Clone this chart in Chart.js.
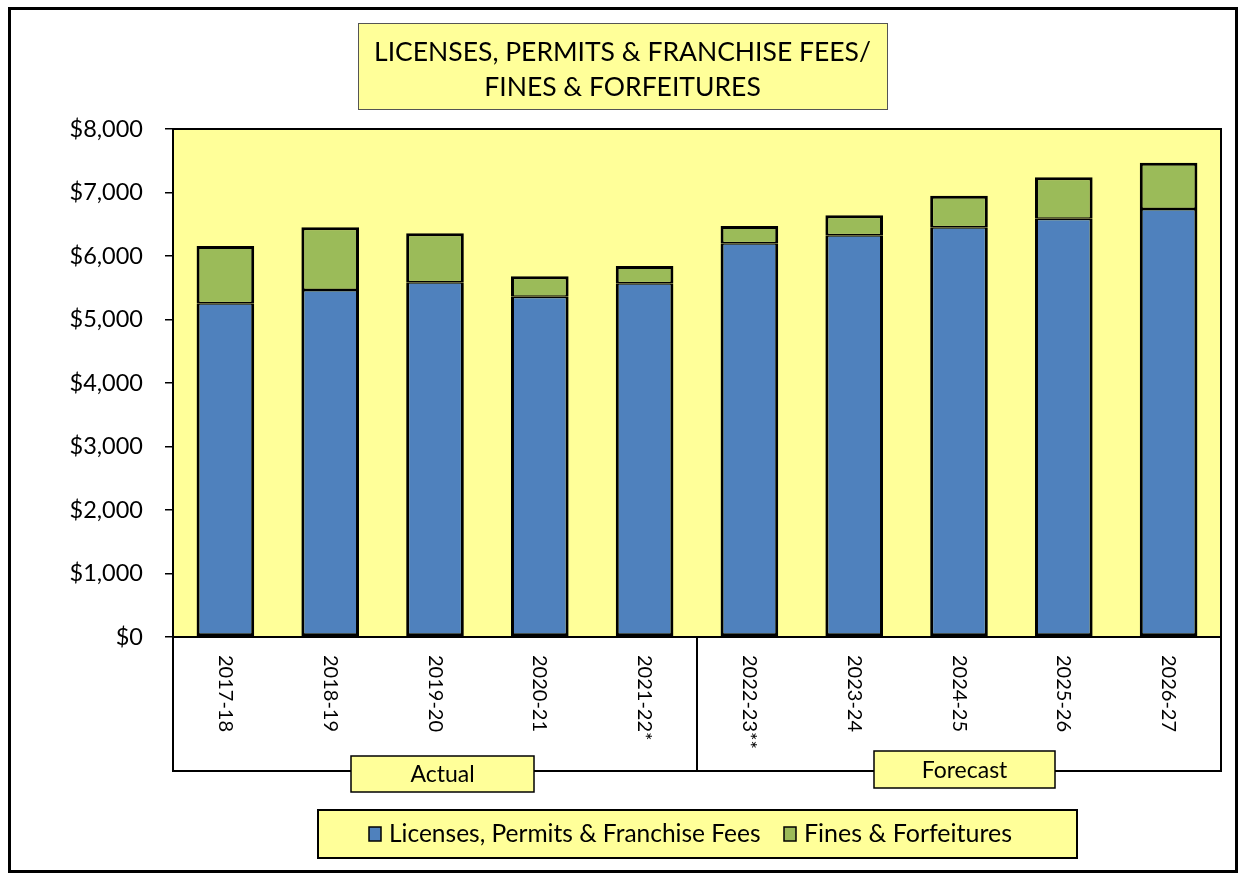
<!DOCTYPE html>
<html>
<head>
<meta charset="utf-8">
<title>Licenses, Permits & Franchise Fees / Fines & Forfeitures</title>
<script src="https://cdn.jsdelivr.net/npm/chart.js@4.4.1/dist/chart.umd.min.js"></script>
<style>
  html, body { margin: 0; padding: 0; background: #fff; }
  canvas { display: block; }
</style>
</head>
<body>
<canvas id="revChart" width="1243" height="873"></canvas>
<script>
// Chart data (in thousands of dollars)
const years = ['2017-18', '2018-19', '2019-20', '2020-21', '2021-22*',
               '2022-23**', '2023-24', '2024-25', '2025-26', '2026-27'];
const licensesFees = [5255, 5465, 5585, 5360, 5570, 6200, 6326, 6452, 6588, 6740];
const finesForfeitures = [902, 987, 772, 320, 273, 272, 315, 498, 651, 730];
const yTicks = [0, 1000, 2000, 3000, 4000, 5000, 6000, 7000, 8000];
const titleLines = ['LICENSES, PERMITS & FRANCHISE FEES/', 'FINES & FORFEITURES'];
const groupLabels = ['Actual', 'Forecast'];

const FONT = 'Lato, "Open Sans", sans-serif';
const YELLOW = '#FFFF99';

// shrink text so it fits a target width
function fitFont(ctx, text, size, maxWidth) {
    let s = size;
    ctx.font = s + 'px ' + FONT;
    while (ctx.measureText(text).width > maxWidth && s > 8) {
        s -= 0.5;
        ctx.font = s + 'px ' + FONT;
    }
    return s;
}

function boxText(ctx, x, y, w, h, lw, stroke) {
    ctx.fillStyle = YELLOW;
    ctx.fillRect(x, y, w, h);
    ctx.lineWidth = lw;
    ctx.strokeStyle = stroke;
    ctx.strokeRect(x, y, w, h);
}

// paints the frame, plot background, title, category box and legend
const decorPlugin = {
    id: 'decor',
    beforeDraw(chart) {
        const ctx = chart.ctx;
        const a = chart.chartArea;
        ctx.save();
        ctx.fillStyle = '#fff';
        ctx.fillRect(0, 0, chart.width, chart.height);
        ctx.fillStyle = YELLOW;
        ctx.fillRect(a.left, a.top, a.right - a.left, a.bottom - a.top);
        ctx.restore();
    },
    afterDraw(chart) {
        const ctx = chart.ctx;
        const a = chart.chartArea;
        const xs = chart.scales.x;
        ctx.save();

        // outer frame
        ctx.lineWidth = 3;
        ctx.strokeStyle = '#000';
        ctx.strokeRect(9.5, 8.5, 1227, 863);

        // plot border
        ctx.lineWidth = 2;
        ctx.strokeRect(a.left, a.top, a.right - a.left, a.bottom - a.top);

        // category box below the plot
        const boxBottom = 771;
        const split = (xs.getPixelForValue(4) + xs.getPixelForValue(5)) / 2;
        ctx.beginPath();
        ctx.moveTo(a.left, a.bottom);
        ctx.lineTo(a.left, boxBottom);
        ctx.lineTo(a.right, boxBottom);
        ctx.lineTo(a.right, a.bottom);
        ctx.moveTo(split, a.bottom);
        ctx.lineTo(split, boxBottom);
        ctx.stroke();

        // rotated year labels
        ctx.fillStyle = '#000';
        ctx.font = '20px ' + FONT;
        ctx.textAlign = 'left';
        ctx.textBaseline = 'middle';
        chart.data.labels.forEach((lbl, i) => {
            const x = xs.getPixelForValue(i);
            ctx.save();
            ctx.translate(x, 655);
            ctx.rotate(Math.PI / 2);
            ctx.fillText(lbl, 0, 0);
            ctx.restore();
        });

        // Actual / Forecast tags
        const tags = [
            { x: 351, y: 756, w: 183, h: 36 },
            { x: 874, y: 751, w: 181, h: 37 }
        ];
        tags.forEach((t, i) => {
            boxText(ctx, t.x, t.y, t.w, t.h, 1.5, '#000');
            ctx.fillStyle = '#000';
            ctx.font = '23px ' + FONT;
            ctx.textAlign = 'center';
            ctx.textBaseline = 'middle';
            ctx.fillText(groupLabels[i], t.x + t.w / 2, t.y + t.h / 2 + 1);
        });

        // title box
        boxText(ctx, 358.5, 23.5, 529, 86, 1, '#555');
        ctx.fillStyle = '#000';
        ctx.textAlign = 'center';
        ctx.textBaseline = 'middle';
        const ts = fitFont(ctx, titleLines[0], 28, 502);
        ctx.font = ts + 'px ' + FONT;
        ctx.fillText(titleLines[0], 622.5, 52);
        ctx.fillText(titleLines[1], 622.5, 87);

        // legend box
        boxText(ctx, 318, 810, 759, 48, 2, '#000');
        const items = [
            { x: 369, maxW: 373 },
            { x: 784, maxW: 235 }
        ];
        chart.data.datasets.forEach((ds, i) => {
            const it = items[i];
            ctx.fillStyle = ds.backgroundColor;
            ctx.fillRect(it.x, 827, 12, 14);
            ctx.lineWidth = 1.5;
            ctx.strokeStyle = '#000';
            ctx.strokeRect(it.x, 827, 12, 14);
            ctx.fillStyle = '#000';
            ctx.textAlign = 'left';
            ctx.textBaseline = 'middle';
            const fs = fitFont(ctx, ds.label, 25, it.maxW);
            ctx.font = fs + 'px ' + FONT;
            ctx.fillText(ds.label, it.x + 20, 834);
        });

        ctx.restore();
    }
};

document.addEventListener('DOMContentLoaded', function() {
    const ctx = document.getElementById('revChart').getContext('2d');

    new Chart(ctx, {
        type: 'bar',
        data: {
            labels: years,
            datasets: [{
                label: 'Licenses, Permits & Franchise Fees',
                data: licensesFees,
                backgroundColor: '#4F81BD',
                borderColor: '#000',
                borderWidth: { top: 1.5, left: 3, right: 3, bottom: 3 },
                borderSkipped: false
            }, {
                label: 'Fines & Forfeitures',
                data: finesForfeitures,
                backgroundColor: '#9BBB59',
                borderColor: '#000',
                borderWidth: { top: 3, left: 3, right: 3, bottom: 1.5 },
                borderSkipped: false
            }]
        },
        options: {
            responsive: false,
            animation: false,
            barPercentage: 0.55,
            categoryPercentage: 1,
            layout: {
                padding: { top: 129, right: 22, left: 0, bottom: 0 }
            },
            plugins: {
                legend: { display: false },
                title: { display: false },
                tooltip: { enabled: false }
            },
            scales: {
                x: {
                    stacked: true,
                    grid: { display: false },
                    border: { display: false },
                    ticks: { display: false },
                    afterFit: function(scale) {
                        scale.height = 873 - 637;
                    }
                },
                y: {
                    stacked: true,
                    min: 0,
                    max: 8000,
                    afterBuildTicks: function(scale) {
                        scale.ticks = yTicks.map(v => ({ value: v }));
                    },
                    ticks: {
                        color: '#000',
                        padding: 22,
                        font: { family: 'Lato', size: 23.5 },
                        callback: v => '$' + v.toLocaleString('en-US')
                    },
                    grid: {
                        drawOnChartArea: false,
                        tickLength: 8,
                        color: '#000',
                        lineWidth: 1.5
                    },
                    border: { display: false },
                    afterFit: function(scale) {
                        scale.width = 173;
                    }
                }
            }
        },
        plugins: [decorPlugin]
    });
});
</script>
</body>
</html>
